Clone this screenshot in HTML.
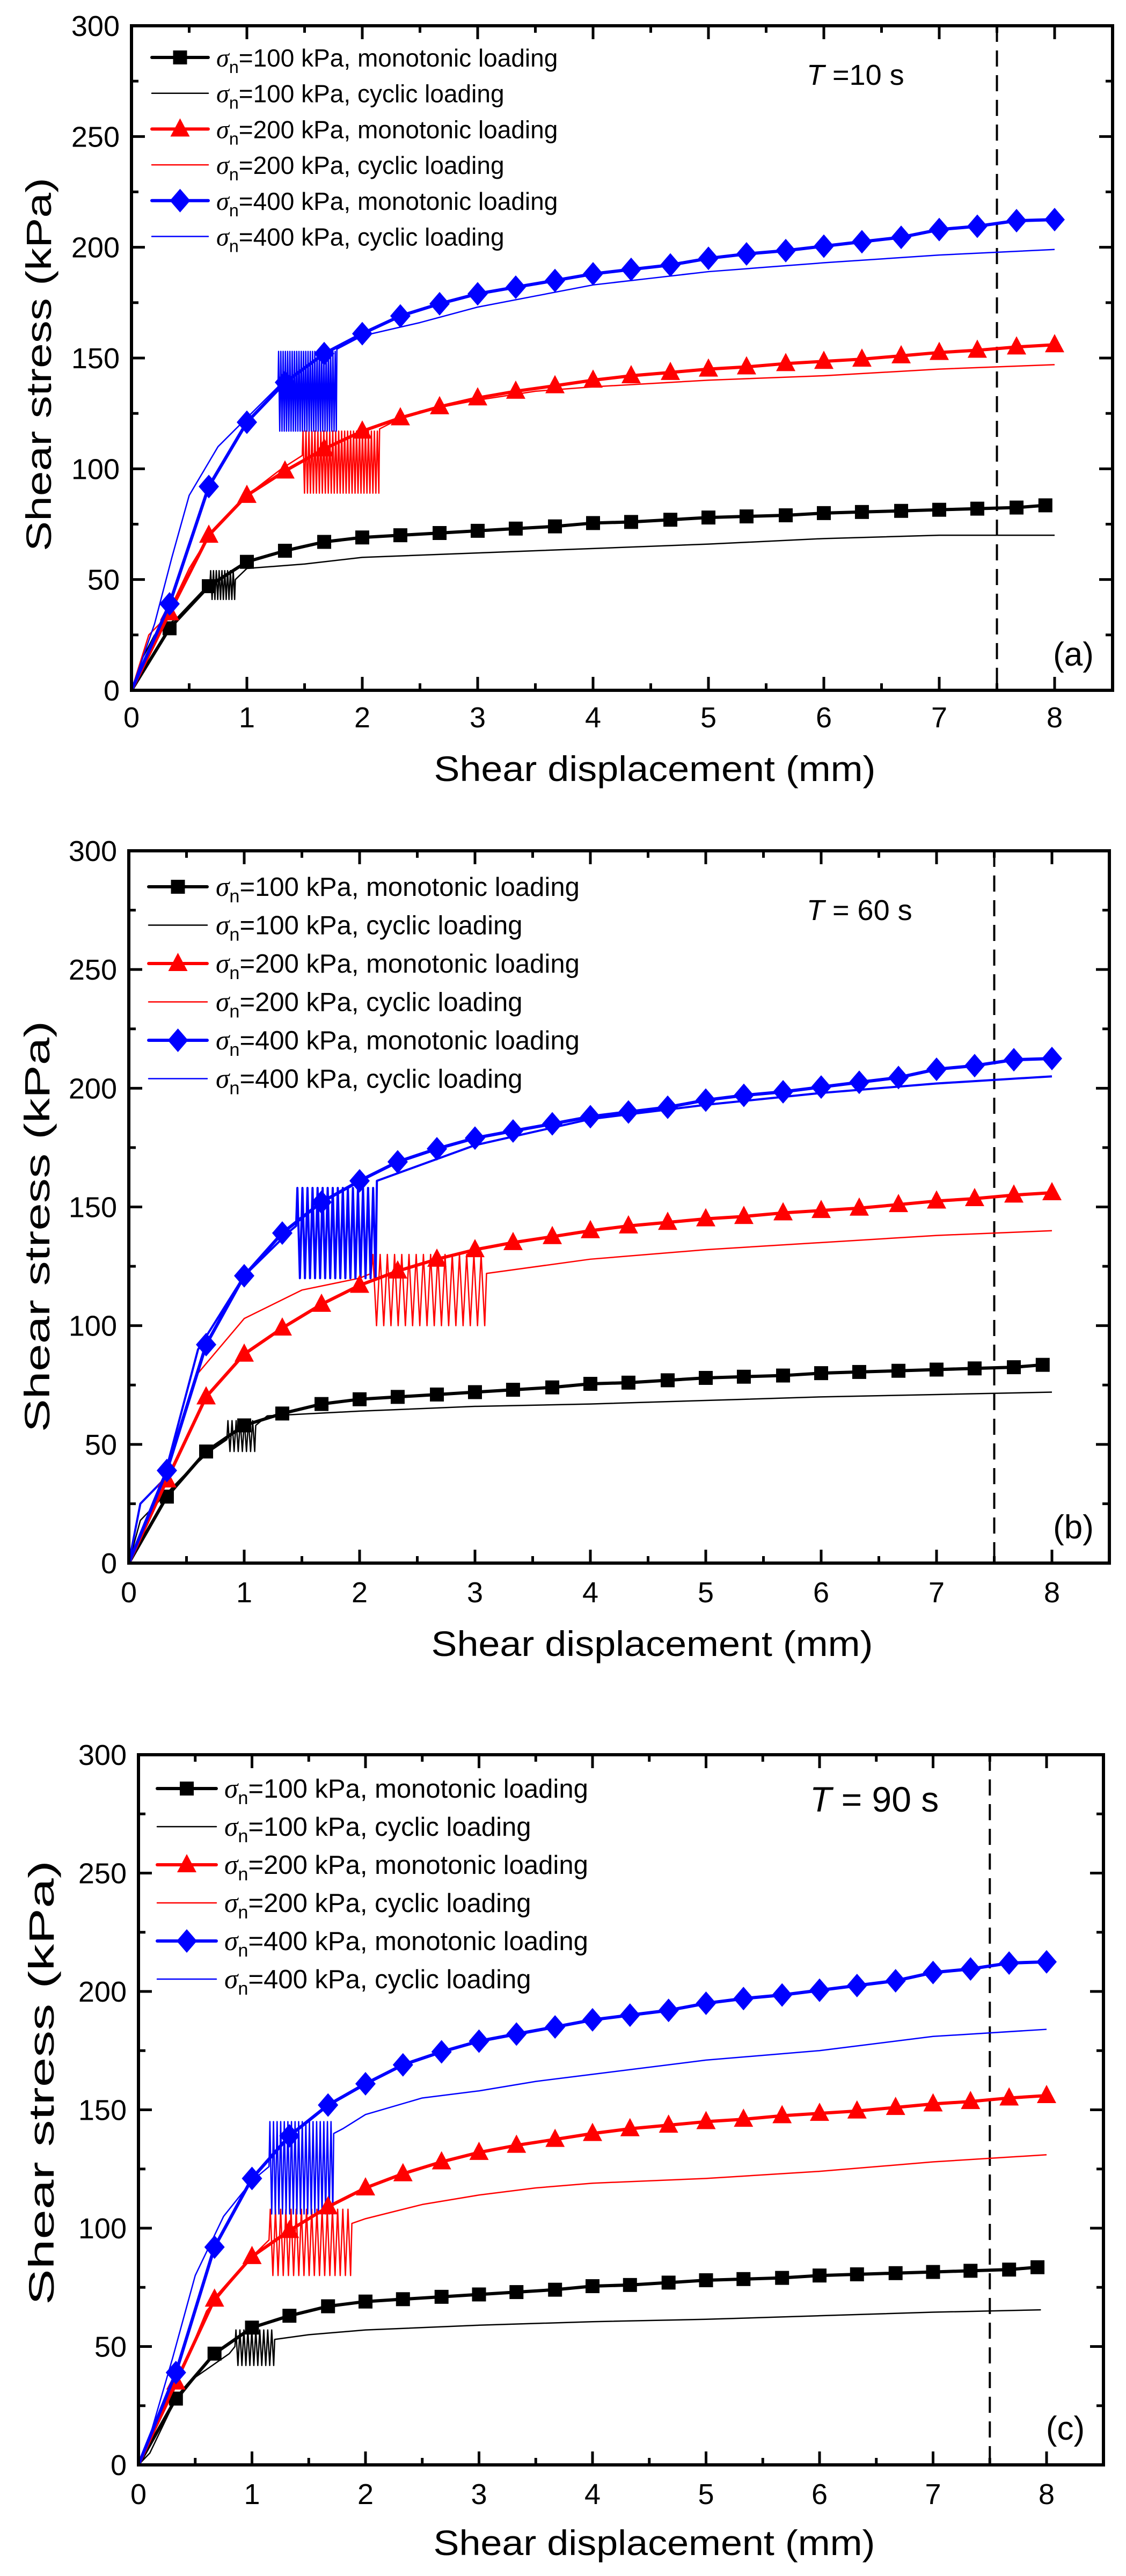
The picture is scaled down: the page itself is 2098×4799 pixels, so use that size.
<!DOCTYPE html>
<html><head><meta charset="utf-8"><style>
html,body{margin:0;padding:0;background:#fff;}
svg{display:block;font-family:"Liberation Sans",sans-serif;}
</style></head><body>
<svg id="fig" width="2098" height="4799" viewBox="0 0 2098 4799" xmlns="http://www.w3.org/2000/svg"></svg>
<script>
// ---------- data ----------
const monoX = [0,0.33,0.67,1.0,1.33,1.67,2.0,2.33,2.67,3.0,3.33,3.67,4.0,4.33,4.67,5.0,5.33,5.67,6.0,6.33,6.67,7.0,7.33,7.67,7.92];
const mono100 = [0,28,47,58,63,67,69,70,71,72,73,74,75.5,76,77,78,78.5,79,80,80.5,81,81.5,82,82.5,83.5];
const monoX2 = [0,0.33,0.67,1.0,1.33,1.67,2.0,2.33,2.67,3.0,3.33,3.67,4.0,4.33,4.67,5.0,5.33,5.67,6.0,6.33,6.67,7.0,7.33,7.67,8.0];
const mono200 = [0,35,70,88,99,109,117,123,128,132,135,137.5,140,142,143.5,145,146,147.5,148.5,149.5,151,152.5,153.5,155,156];
const mono400 = [0,39,92,121,139,152,161,169,174.5,179,182,185,188,190,192,195,197,198.5,200.5,202.5,204.5,208,209.5,212,212.5];

// Panel (a) T=10 s cyclic
const a100PreX=[0,0.1,0.2,0.4,0.6,0.68], a100PreY=[0,15,25,33,44,48];
const a100Band=[0.68,0.9,41,54,9];
const a100PostX=[0.9,1.0,1.5,2,3,4,5,6,7,8], a100PostY=[50,55,57,60,62,64,66,68.5,70,70];
const a200PreX=[0,0.15,0.3,0.5,0.7,1.0,1.3,1.48], a200PreY=[0,25,33,55,72,88,100,106];
const a200Band=[1.48,2.15,89,117,26];
const a200PostX=[2.15,2.3,2.5,3,3.5,4,5,6,7,8], a200PostY=[118,122,126,131,135,137,140,142,145,147];
const a400PreX=[0,0.2,0.35,0.5,0.75,1.0,1.27], a400PreY=[0,30,60,88,110,123,137];
const a400Band=[1.27,1.78,117,153,26];
const a400PostX=[1.78,2,2.5,3,3.5,4,4.5,5,5.5,6,7,8], a400PostY=[154,160,166,173,178,183,186,189,191,193,196.5,199];

// Panel (b) T=60 s cyclic
const b100PreX=[0,0.1,0.3,0.5,0.7,0.85], b100PreY=[0,18,28,38,47,52];
const b100Band=[0.85,1.1,47,60,7];
const b100PostX=[1.1,1.2,2,3,4,5,6,7,8], b100PostY=[58,62,64,66,67,68.5,70,71,72];
const b200PreX=[0,0.1,0.3,0.6,1.0,1.5,2.0,2.1], b200PreY=[0,25,35,80,103,115,120,122];
const b200Band=[2.1,3.1,100,130,16];
const b200PostX=[3.1,4,5,6,7,8], b200PostY=[122,128,132,135,138,140];
const b400PreX=[0,0.1,0.3,0.6,1.0,1.4,1.45], b400PreY=[0,25,35,90,121,140,142];
const b400Band=[1.45,2.15,120,158,16];
const b400PostX=[2.15,3,4,5,6,7,8], b400PostY=[161,176,187,193,198,202,205];

// Panel (c) T=90 s cyclic
const c100PreX=[0,0.1,0.3,0.5,0.8,0.85], c100PreY=[0,5,25,37,47,50];
const c100Band=[0.85,1.2,42,57,10];
const c100PostX=[1.2,1.5,2,3,4,5,6,7,7.95], c100PostY=[53,55,57,59,60.5,61.5,63,64.5,65.5];
const c200PreX=[0,0.1,0.3,0.6,1.0,1.15], c200PreY=[0,10,30,65,88,95];
const c200Band=[1.15,1.88,80,108,16];
const c200PostX=[1.88,2,2.5,3,3.5,4,5,6,7,8], c200PostY=[102,104,110,114,117,119,121,124,128,131];
const c400PreX=[0,0.1,0.3,0.5,0.75,1.0,1.15], c400PreY=[0,12,45,80,105,120,126];
const c400Band=[1.15,1.72,106,145,18];
const c400PostX=[1.72,1.8,2,2.5,3,3.5,4,5,6,7,8], c400PostY=[140,142,148,155,158,162,165,171,175,181,184];

const xTicks=[0,1,2,3,4,5,6,7,8];
const yTicks=[0,50,100,150,200,250,300];
const legendLabels=["=100 kPa, monotonic loading","=100 kPa, cyclic loading","=200 kPa, monotonic loading","=200 kPa, cyclic loading","=400 kPa, monotonic loading","=400 kPa, cyclic loading"];

// ---------- drawing ----------
const NS="http://www.w3.org/2000/svg";
const svg=document.getElementById('fig');
function mk(tag,attrs,parent){const e=document.createElementNS(NS,tag);for(const k in attrs)e.setAttribute(k,attrs[k]);(parent||svg).appendChild(e);return e;}

const panels=[
 {id:'a',x0:245,sx:215,right:2073,top:48,bottom:1286,tLabel:'=10 s',tX:1503,tY:158,tFs:54,lab:'(a)',labX:2000,labY:1240,
  legY:107,legDy:66.7,legL:283,legR:388,legT:403,legFs:46,xtY:1355,xTitleY:1455,yTitleX:95,yTitleLen:696,yTitleC:679,
  cyc:[[a100PreX,a100PreY,a100Band,a100PostX,a100PostY],[a200PreX,a200PreY,a200Band,a200PostX,a200PostY],[a400PreX,a400PreY,a400Band,a400PostX,a400PostY]]},
 {id:'b',x0:240,sx:215,right:2067,top:1585,bottom:2912,tLabel:'= 60 s',tX:1503,tY:1714,tFs:54,lab:'(b)',labX:2000,labY:2866,
  legY:1652,legDy:71.5,legL:277,legR:386,legT:402,legFs:49,xtY:2985,xTitleY:3085,yTitleX:92,yTitleLen:766,yTitleC:2285,
  cyc:[[b100PreX,b100PreY,b100Band,b100PostX,b100PostY],[b200PreX,b200PreY,b200Band,b200PostX,b200PostY],[b400PreX,b400PreY,b400Band,b400PostX,b400PostY]]},
 {id:'c',x0:258,sx:211.5,right:2056,top:3269,bottom:4592,tLabel:'= 90 s',tX:1509,tY:3375,tFs:66,lab:'(c)',labX:1985,labY:4545,
  legY:3332,legDy:71,legL:293,legR:403,legT:418,legFs:49,xtY:4665,xTitleY:4760,yTitleX:100,yTitleLen:828,yTitleC:3880,
  cyc:[[c100PreX,c100PreY,c100Band,c100PostX,c100PostY],[c200PreX,c200PreY,c200Band,c200PostX,c200PostY],[c400PreX,c400PreY,c400Band,c400PostX,c400PostY]]}
];
const colors=['#000000','#ff0000','#0000ff'];
const markers=['square','triangle','diamond'];

function marker(g,type,cx,cy,color){
  let m;
  if(type==='square') m=mk('rect',{x:cx-13,y:cy-13,width:26,height:26,fill:color},g);
  else if(type==='triangle') m=mk('polygon',{points:`${cx},${cy-20} ${cx+18},${cy+14} ${cx-18},${cy+14}`,fill:color},g);
  else m=mk('polygon',{points:`${cx},${cy-22} ${cx+19},${cy} ${cx},${cy+22} ${cx-19},${cy}`,fill:color},g);
  return m;
}

panels.forEach(p=>{
  const X=v=>p.x0+v*p.sx;
  const Y=v=>p.bottom-v*(p.bottom-p.top)/300;
  const g=mk('g',{});
  
  

  // ticks
  const tg=mk('g',{stroke:'#000','stroke-width':5},g);
  
  
  for(let v=0;v<=8.5;v+=0.5){
    const len=(v%1===0)?25:13, x=X(v);
    mk('line',{x1:x,y1:p.bottom,x2:x,y2:p.bottom-len},tg);
    mk('line',{x1:x,y1:p.top,x2:x,y2:p.top+len},tg);
  }
  for(let v=0;v<=300;v+=25){
    const len=(v%50===0)?25:13, y=Y(v);
    mk('line',{x1:p.x0,y1:y,x2:p.x0+len,y2:y},tg);
    mk('line',{x1:p.right,y1:y,x2:p.right-len,y2:y},tg);
  }
  xTicks.forEach(v=>{const t=mk('text',{x:X(v),y:p.xtY,'font-size':54,'text-anchor':'middle'},g);t.textContent=v;
    });
  yTicks.forEach(v=>{const t=mk('text',{x:p.x0-22,y:Y(v)+19,'font-size':54,'text-anchor':'end'},g);t.textContent=v;
    });

  // dashed line at 7.5
  const dl=mk('line',{x1:X(7.5),y1:p.top,x2:X(7.5),y2:p.bottom,stroke:'#000','stroke-width':4,'stroke-dasharray':'30 16'},g);
  

  // cyclic curves
  p.cyc.forEach((c,i)=>{
    const [px,py,band,qx,qy]=c;
    let pts=px.map((v,k)=>X(v)+','+Y(py[k]));
    const [b0,b1,lo,hi,n]=band;
    const step=(b1-b0)/n;
    for(let k=0;k<n;k++){
      pts.push(X(b0+k*step+step*0.25)+','+Y(hi));
      pts.push(X(b0+k*step+step*0.75)+','+Y(lo));
    }
    pts=pts.concat(qx.map((v,k)=>X(v)+','+Y(qy[k])));
    const pl=mk('polyline',{points:pts.join(' '),fill:'none',stroke:colors[i],'stroke-width':i===2&&p.id==='b'?4:2.5,'stroke-linejoin':'round'},g);
    
    
  });

  // monotonic curves
  const monoSets=[[monoX,mono100],[monoX2,mono200],[monoX2,mono400]];
  monoSets.forEach(([xs,ys],i)=>{
    const pl=mk('polyline',{points:xs.map((v,k)=>X(v)+','+Y(ys[k])).join(' '),fill:'none',stroke:colors[i],'stroke-width':6,'stroke-linejoin':'round'},g);
    
    
    xs.forEach((v,k)=>{ if(k===0) return;
      const m=marker(g,markers[i],X(v),Y(ys[k]),colors[i]);
      
      
    });
  });

  // frame
  const fr=mk('rect',{x:p.x0,y:p.top,width:p.right-p.x0,height:p.bottom-p.top,fill:'none',stroke:'#000','stroke-width':6},g);
  

  // legend
  const lg=mk('g',{},g);
  
  legendLabels.forEach((lab,k)=>{
    const y=p.legY+k*p.legDy, ci=Math.floor(k/2), isMono=k%2===0;
    const e=mk('g',{},lg);
    
    mk('line',{x1:p.legL,y1:y,x2:p.legR,y2:y,stroke:colors[ci],'stroke-width':isMono?6:2.5,'stroke-linecap':'round'},e);
    if(isMono) marker(e,markers[ci],(p.legL+p.legR)/2,y,colors[ci]);
    const t=mk('text',{x:p.legT,y:y+17,'font-size':p.legFs},e);
    const s1=mk('tspan',{'font-style':'italic','font-family':'Liberation Serif, serif','font-size':p.legFs*1.05},t);s1.textContent='σ';
    const s2=mk('tspan',{'font-size':p.legFs*0.7,dy:12},t);s2.textContent='n';
    const s3=mk('tspan',{dy:-12},t);s3.textContent=lab;
  });

  // T label
  const tt=mk('text',{x:p.tX,y:p.tY,'font-size':p.tFs},g);
  
  const ti=mk('tspan',{'font-style':'italic'},tt);ti.textContent='T';
  const tr=mk('tspan',{},tt);tr.textContent=' '+p.tLabel;

  // panel label
  const pl=mk('text',{x:p.labX,y:p.labY,'font-size':62,'text-anchor':'middle'},g);
  pl.textContent=p.lab;

  // axis titles
  const xt=mk('text',{x:(p.x0+X(8))/2+115,y:p.xTitleY,'font-size':66,'text-anchor':'middle',textLength:823,lengthAdjust:'spacingAndGlyphs'},g);
  xt.textContent='Shear displacement (mm)';
  const yt=mk('text',{x:0,y:0,'font-size':66,'text-anchor':'middle',textLength:p.yTitleLen,lengthAdjust:'spacingAndGlyphs',transform:`translate(${p.yTitleX},${p.yTitleC}) rotate(-90)`},g);
  yt.textContent='Shear stress (kPa)';
});
</script>
</body></html>
